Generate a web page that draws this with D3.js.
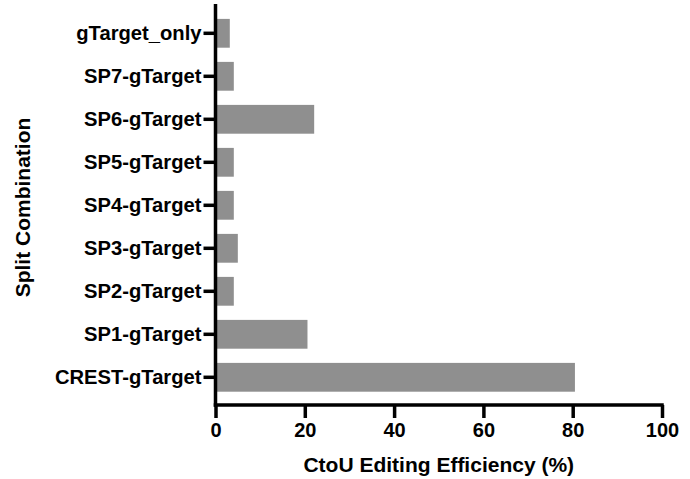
<!DOCTYPE html>
<html>
<head>
<meta charset="utf-8">
<script src="https://cdn.jsdelivr.net/npm/d3@7/dist/d3.min.js"></script>
<style>
  html, body { margin: 0; padding: 0; background: #fff; }
  svg { display: block; font-family: "Liberation Sans", Arial, Helvetica, sans-serif; font-weight: bold; }
</style>
</head>
<body>
<svg id="chart" width="690" height="479"></svg>
<script>
const categories = ["gTarget_only", "SP7-gTarget", "SP6-gTarget", "SP5-gTarget", "SP4-gTarget", "SP3-gTarget", "SP2-gTarget", "SP1-gTarget", "CREST-gTarget"];
const values = [3.2, 4.1, 22.1, 4.1, 4.1, 5.0, 4.1, 20.6, 80.5];
const xTicks = [0, 20, 40, 60, 80, 100];
const xTitle = "CtoU Editing Efficiency (%)";
const yTitle = "Split Combination";

const svg = d3.select("#chart");
const plotLeft = 215.5, plotRight = 662, axisY = 405, plotTop = 4;

const x = d3.scaleLinear().domain([0, 100]).range([plotLeft, plotRight]);
const y = d3.scaleBand().domain(categories).range([11.8, 398.8]).paddingInner(0.33).paddingOuter(0.165);

svg.append("g").selectAll("rect").data(categories).join("rect")
  .attr("x", x(0))
  .attr("y", d => y(d))
  .attr("width", (d, i) => x(values[i]) - x(0))
  .attr("height", y.bandwidth())
  .attr("fill", "#8f8f8f");

// Y axis
const yAxis = svg.append("g").attr("transform", `translate(${plotLeft},0)`)
  .call(d3.axisLeft(y).tickSize(12).tickPadding(2).tickSizeOuter(0));
yAxis.select(".domain").remove();
yAxis.append("line").attr("x1", 0).attr("x2", 0).attr("y1", plotTop).attr("y2", axisY + 1.75)
  .attr("stroke", "#000").attr("stroke-width", 3.5);
yAxis.selectAll(".tick line").attr("stroke", "#000").attr("stroke-width", 3.5);
yAxis.selectAll(".tick text").attr("fill", "#000").style("font-size", "20.2px").style("font-weight", "bold");

// X axis
const xAxis = svg.append("g").attr("transform", `translate(0,${axisY})`)
  .call(d3.axisBottom(x).tickValues(xTicks).tickFormat(d3.format("d")).tickSize(13).tickPadding(5).tickSizeOuter(0));
xAxis.select(".domain").remove();
xAxis.append("line").attr("x1", plotLeft - 1.75).attr("x2", plotRight + 1.75).attr("y1", 0).attr("y2", 0)
  .attr("stroke", "#000").attr("stroke-width", 3.5);
xAxis.selectAll(".tick line").attr("stroke", "#000").attr("stroke-width", 3.5);
xAxis.selectAll(".tick text").attr("fill", "#000").style("font-size", "20px").style("font-weight", "bold");

svg.selectAll("g").attr("font-family", null).attr("font-size", null);

// Titles
svg.append("text")
  .attr("x", (plotLeft + plotRight) / 2).attr("y", 471.5)
  .attr("text-anchor", "middle")
  .style("font-size", "21px")
  .text(xTitle);

svg.append("text")
  .attr("transform", `translate(29.5,${(plotTop + axisY) / 2 + 3}) rotate(-90)`)
  .attr("text-anchor", "middle")
  .style("font-size", "21px")
  .text(yTitle);
</script>
</body>
</html>
